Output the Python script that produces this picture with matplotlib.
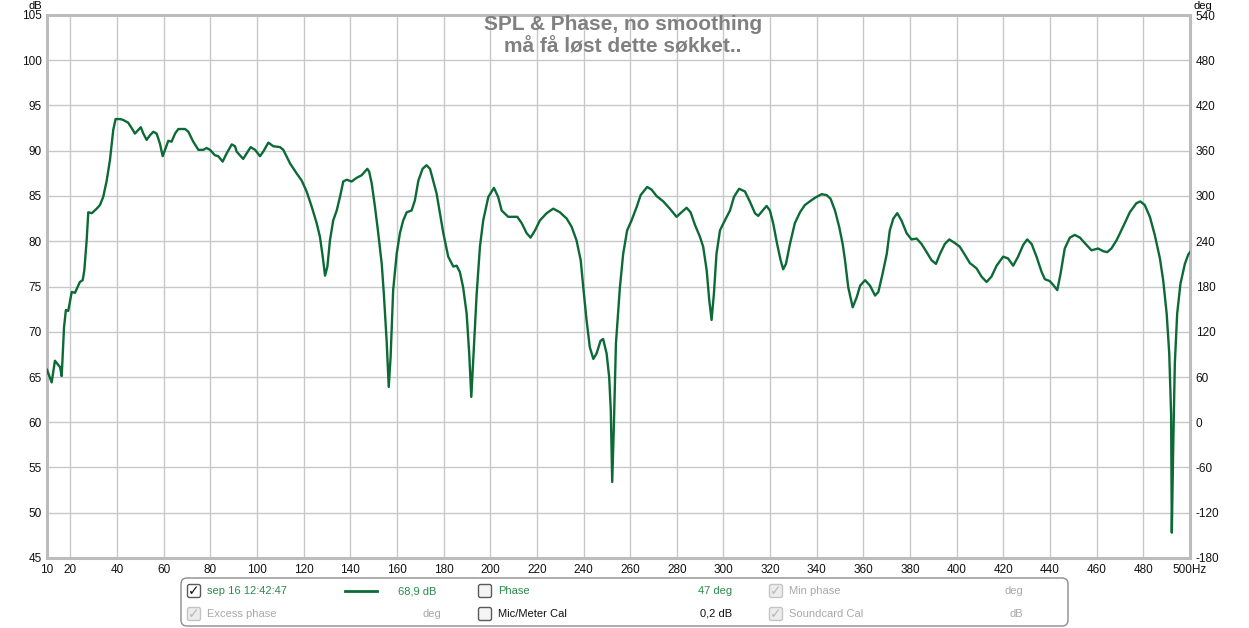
import matplotlib
matplotlib.use('Agg')
import matplotlib.pyplot as plt
from matplotlib.patches import FancyBboxPatch

# SPL trace (Hz, dB)
freq_hz = [10.0, 12.0, 13.4, 14.9, 15.6, 16.3, 17.3, 18.1, 19.1, 20.6, 22.0, 24.1, 25.3, 26.0,
           27.0, 27.7, 29.2, 31.3, 32.7, 34.1, 35.6, 37.0, 38.4, 39.4, 41.3, 42.7, 44.8, 46.3,
           47.7, 49.1, 50.2, 51.3, 52.7, 54.1, 55.6, 57.0, 58.4, 59.6, 60.6, 62.0, 63.4, 64.9,
           66.3, 69.2, 70.6, 72.7, 74.9, 77.0, 78.4, 79.9, 82.0, 83.4, 85.3, 87.0, 89.2, 90.6,
           91.3, 94.1, 95.6, 97.3, 99.2, 101.3, 102.7, 104.9, 107.0, 109.9, 111.3, 114.2, 117.0,
           119.2, 121.3, 123.5, 125.6, 127.0, 128.2, 129.2, 130.2, 131.3, 132.7, 134.2, 135.6,
           137.0, 138.5, 140.6, 142.7, 144.9, 146.3, 147.3, 148.1, 149.2, 150.6, 152.0, 153.5,
           154.4, 155.6, 156.5, 157.3, 158.4, 159.9, 161.3, 162.7, 164.2, 166.3, 167.7, 169.2,
           171.0, 172.7, 174.2, 177.0, 179.9, 182.0, 184.2, 185.6, 187.0, 188.4, 189.9, 191.0,
           191.9, 192.7, 194.2, 195.6, 197.0, 199.2, 201.6, 203.4, 204.9, 207.7, 211.6, 213.5,
           215.6, 217.3, 219.2, 221.3, 224.2, 227.0, 229.9, 232.8, 234.9, 237.0, 238.8, 239.9,
           241.3, 242.7, 244.2, 245.6, 247.3, 248.4, 249.9, 251.0, 251.7, 252.3, 253.0, 253.9,
           255.6, 257.0, 258.7, 260.6, 262.8, 264.5, 267.3, 269.2, 271.3, 274.2, 277.0, 279.9,
           282.0, 284.2, 285.9, 287.8, 289.9, 291.3, 292.8, 293.9, 294.9, 295.9, 297.0, 298.5,
           300.2, 302.8, 304.5, 306.7, 309.2, 311.3, 313.5, 314.9, 316.8, 318.5, 319.9, 321.3,
           323.0, 324.5, 325.6, 326.8, 328.5, 330.6, 332.8, 334.9, 337.0, 339.2, 342.1, 344.2,
           345.9, 347.8, 349.6, 351.1, 352.1, 353.5, 355.4, 357.1, 358.6, 360.7, 362.8, 365.0,
           366.4, 368.2, 370.0, 371.3, 372.8, 374.5, 376.3, 378.5, 380.6, 382.8, 384.9, 387.1,
           389.2, 391.1, 392.8, 394.9, 396.8, 399.2, 401.3, 403.5, 405.6, 408.5, 410.6, 412.8,
           414.9, 417.1, 419.9, 422.0, 424.2, 426.3, 428.5, 430.2, 432.1, 434.2, 436.4, 437.8,
           439.9, 441.6, 443.1, 444.5, 446.3, 448.5, 450.6, 452.8, 455.6, 457.8, 460.6, 462.8,
           464.5, 466.3, 468.5, 471.3, 474.2, 477.0, 478.7, 480.6, 482.8, 484.9, 487.1, 488.5,
           490.0, 491.1, 491.9, 492.2, 492.8, 493.5, 494.5, 495.9, 497.8, 499.2, 500.0]
spl_db = [65.8, 64.4, 66.8, 66.3, 66.1, 65.1, 70.5, 72.4, 72.3, 74.4, 74.3, 75.5, 75.7, 76.8,
          80.1, 83.2, 83.1, 83.6, 84.0, 84.9, 86.7, 89.0, 92.3, 93.5, 93.5, 93.4, 93.1, 92.5,
          91.9, 92.3, 92.6, 91.9, 91.2, 91.7, 92.1, 91.9, 90.8, 89.4, 90.1, 91.1, 91.0, 91.9,
          92.4, 92.4, 92.1, 91.0, 90.1, 90.1, 90.3, 90.1, 89.5, 89.4, 88.8, 89.7, 90.7, 90.5,
          89.9, 89.1, 89.7, 90.4, 90.1, 89.4, 89.9, 90.9, 90.5, 90.4, 90.1, 88.6, 87.5,
          86.7, 85.5, 83.8, 82.0, 80.5, 78.3, 76.2, 77.2, 80.1, 82.3, 83.4, 84.9,
          86.6, 86.8, 86.6, 87.0, 87.3, 87.7, 88.0, 87.7, 86.4, 83.8, 80.9, 77.5,
          74.2, 69.0, 63.9, 67.2, 74.6, 78.6, 80.9, 82.3, 83.2, 83.4, 84.5, 86.7,
          88.0, 88.4, 88.0, 85.3, 80.9, 78.3, 77.2, 77.3, 76.6, 74.9, 72.0, 67.6,
          62.8, 66.8, 74.2, 79.4, 82.3, 84.9, 85.9, 84.9, 83.4, 82.7, 82.7, 82.0,
          80.9, 80.4, 81.2, 82.3, 83.1, 83.6, 83.2, 82.5, 81.6, 80.1, 77.9, 74.9,
          71.3, 68.3, 67.0, 67.6, 69.0, 69.2, 67.6, 65.0, 61.3, 53.4, 59.5, 68.7,
          74.9, 78.6, 81.2, 82.3, 83.8, 85.1, 86.0, 85.7, 85.0, 84.4, 83.6, 82.7,
          83.2, 83.7, 83.2, 81.8, 80.5, 79.4, 76.8, 73.5, 71.3, 74.2, 78.6, 81.2,
          82.1, 83.4, 84.9, 85.8, 85.5, 84.4, 83.1, 82.8, 83.4, 83.9, 83.4, 82.0,
          79.7, 77.9, 76.9, 77.5, 79.7, 82.0, 83.2, 84.0, 84.4, 84.8, 85.2, 85.1,
          84.7, 83.4, 81.6, 79.7, 77.9, 74.9, 72.7, 73.8, 75.1, 75.7, 75.1, 74.0,
          74.4, 76.4, 78.6, 81.2, 82.5, 83.1, 82.3, 80.9, 80.2, 80.3, 79.7, 78.8,
          77.9, 77.5, 78.6, 79.7, 80.2, 79.8, 79.4, 78.5, 77.6, 77.0, 76.1, 75.5,
          76.1, 77.3, 78.3, 78.1, 77.3, 78.3, 79.6, 80.2, 79.7, 78.3, 76.6, 75.8,
          75.6, 75.1, 74.6, 76.4, 79.2, 80.4, 80.7, 80.4, 79.6, 79.0, 79.2, 78.9,
          78.8, 79.2, 80.1, 81.6, 83.2, 84.2, 84.4, 84.0, 82.7, 80.7, 78.1, 75.7,
          72.0, 67.6, 60.9, 47.8, 57.2, 66.5, 72.0, 75.3, 77.5, 78.5, 78.8]

x_ticks = [10] + list(range(20, 500, 20)) + [500]
x_labels = [str(t) for t in x_ticks[:-1]] + ['500Hz']
db_ticks = list(range(45, 106, 5))
deg_ticks = list(range(-180, 541, 60))

W, H = 1249, 628
CURVE = '#0c6a36'
GREEN_TXT = '#2a8a4a'
GREY_TXT = '#a8a8a8'

plt.rcParams['font.family'] = ['Liberation Sans', 'DejaVu Sans']
plt.rcParams['axes.unicode_minus'] = False

fig = plt.figure(figsize=(W / 100, H / 100), dpi=100)
ax = fig.add_axes([47 / W, 1 - 558 / H, (1190 - 47) / W, (558 - 15) / H])
ax.plot(freq_hz, spl_db, color=CURVE, lw=1.7, solid_joinstyle='round', zorder=3)
ax.set_xlim(10, 500)
ax.set_ylim(45, 105)
ax.set_xticks(x_ticks)
ax.set_xticklabels(x_labels)
ax.set_yticks(db_ticks)
ax.set_axisbelow(True)
ax.grid(True, color='#c8c8c8', lw=1.0)
ax.tick_params(length=0, labelsize=8.5, pad=4, colors='#111111')
for s in ax.spines.values():
    s.set_color('#bcbcbc')
    s.set_linewidth(2.2)

ax2 = ax.twinx()
ax2.set_ylim(-180, 540)
ax2.set_yticks(deg_ticks)
ax2.tick_params(length=0, labelsize=8.5, pad=4, colors='#111111')
for s in ax2.spines.values():
    s.set_visible(False)

# unit captions above the two value axes
fig.text(35 / W, 1 - 9 / H, 'dB', ha='center', va='baseline', fontsize=8)
fig.text(1203 / W, 1 - 9 / H, 'deg', ha='center', va='baseline', fontsize=8)

fig.text(623 / W, 1 - 25 / H, 'SPL & Phase, no smoothing', ha='center', va='center',
         fontsize=15, weight='bold', color='#808080')
fig.text(623 / W, 1 - 47 / H, 'må få løst dette søkket..', ha='center', va='center',
         fontsize=15, weight='bold', color='#808080')

# legend panel, drawn in pixel coordinates on an overlay axes
lax = fig.add_axes([0, 0, 1, 1])
lax.set_xlim(0, W)
lax.set_ylim(H, 0)
lax.axis('off')
lax.add_patch(FancyBboxPatch((181, 578), 887, 48, boxstyle='round,pad=0,rounding_size=6',
                             fc='white', ec='#8c8c8c', lw=1.0))


def checkbox(cx, cy, checked, enabled):
    ec = '#5a5a5a' if enabled else '#c4c4c4'
    fc = '#f4f4f4' if not checked else ('#ffffff' if enabled else '#ececec')
    lax.add_patch(FancyBboxPatch((cx - 6.5, cy - 6.5), 13, 13,
                                 boxstyle='round,pad=0,rounding_size=2',
                                 fc=fc, ec=ec, lw=1.0))
    if checked:
        lax.text(cx, cy + 0.5, '✓', ha='center', va='center', fontsize=10, weight='bold',
                 color='#111111' if enabled else '#b8b8b8', family='DejaVu Sans')


r1, r2 = 591, 614
checkbox(194, r1, True, True)
checkbox(194, r2, True, False)
checkbox(485, r1, False, True)
checkbox(485, r2, False, True)
checkbox(776, r1, True, False)
checkbox(776, r2, True, False)

lax.plot([345, 377], [r1, r1], color=CURVE, lw=2)

fs = 8
lax.text(207, r1, 'sep 16 12:42:47', ha='left', va='center', fontsize=fs, color=GREEN_TXT)
lax.text(436, r1, '68,9 dB', ha='right', va='center', fontsize=fs, color=GREEN_TXT)
lax.text(498, r1, 'Phase', ha='left', va='center', fontsize=fs, color=GREEN_TXT)
lax.text(732, r1, '47 deg', ha='right', va='center', fontsize=fs, color=GREEN_TXT)
lax.text(789, r1, 'Min phase', ha='left', va='center', fontsize=fs, color=GREY_TXT)
lax.text(1023, r1, 'deg', ha='right', va='center', fontsize=fs, color=GREY_TXT)

lax.text(207, r2, 'Excess phase', ha='left', va='center', fontsize=fs, color=GREY_TXT)
lax.text(441, r2, 'deg', ha='right', va='center', fontsize=fs, color=GREY_TXT)
lax.text(498, r2, 'Mic/Meter Cal', ha='left', va='center', fontsize=fs, color='#111111')
lax.text(732, r2, '0,2 dB', ha='right', va='center', fontsize=fs, color='#111111')
lax.text(789, r2, 'Soundcard Cal', ha='left', va='center', fontsize=fs, color=GREY_TXT)
lax.text(1023, r2, 'dB', ha='right', va='center', fontsize=fs, color=GREY_TXT)

fig.savefig('out.png', dpi=100)
